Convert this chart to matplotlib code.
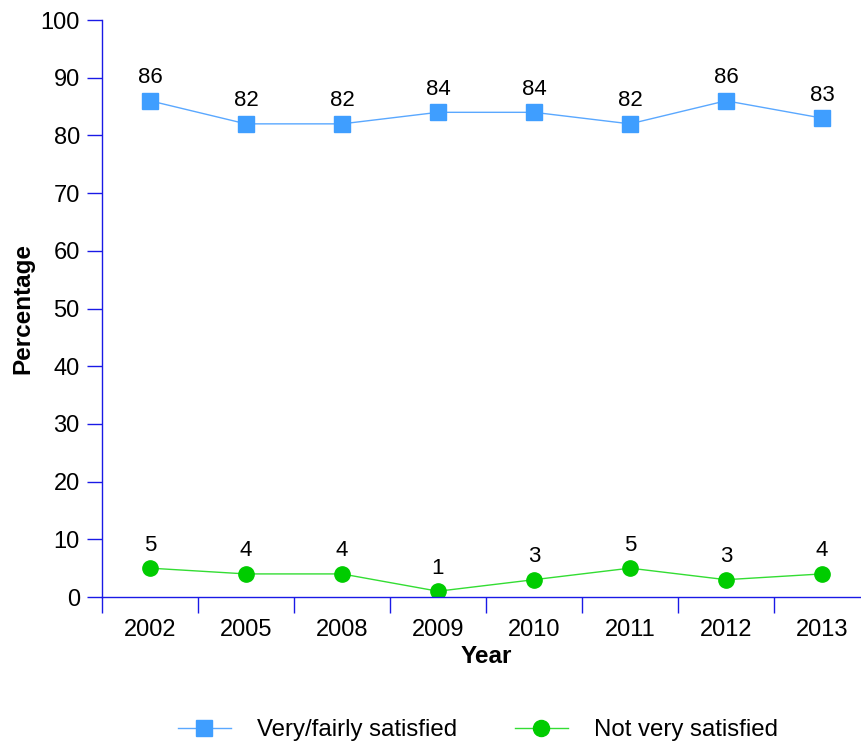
import matplotlib
matplotlib.use('Agg')
import matplotlib.pyplot as plt
import numpy as np

plt.rcParams['font.family'] = ['Liberation Sans', 'DejaVu Sans']

years = ['2002', '2005', '2008', '2009', '2010', '2011', '2012', '2013']
satisfied = [86, 82, 82, 84, 84, 82, 86, 83]
not_satisfied = [5, 4, 4, 1, 3, 5, 3, 4]

axis_col = '#1a1ae6'
blue = '#3f9eff'
green = '#00cc00'

fig = plt.figure(figsize=(8.61, 7.47), dpi=100)
ax = fig.add_axes([102/861, 150/747, 768/861, 577/747])

x = np.arange(len(years))
ax.plot(x, satisfied, color='#5aa8ff', lw=1, marker='s', ms=11,
        mfc=blue, mec=blue, label='Very/fairly satisfied')
ax.plot(x, not_satisfied, color='#33dd33', lw=1, marker='o', ms=11,
        mfc=green, mec=green, label='Not very satisfied')

for xi, v in zip(x, satisfied):
    ax.annotate(str(v), (xi, v), xytext=(0, 9), textcoords='offset points',
                ha='center', va='bottom', fontsize=16)
for xi, v in zip(x, not_satisfied):
    ax.annotate(str(v), (xi, v), xytext=(0, 9), textcoords='offset points',
                ha='center', va='bottom', fontsize=16)

ax.set_xlim(-0.5, len(years) - 0.5)
ax.set_ylim(0, 100)
ax.set_yticks(range(0, 101, 10))
ax.set_xticks(x)
ax.set_xticklabels(years)
ax.set_xticks(np.arange(-0.5, len(years), 1), minor=True)

for s in ['top', 'right']:
    ax.spines[s].set_visible(False)
for s in ['left', 'bottom']:
    ax.spines[s].set_color(axis_col)
    ax.spines[s].set_linewidth(1)

ax.tick_params(axis='y', direction='out', length=11, width=1, color=axis_col,
               pad=5, labelsize=17)
ax.tick_params(axis='x', which='major', length=0, pad=15.5, labelsize=17)
ax.tick_params(axis='x', which='minor', direction='out', length=11.5, width=1,
               color=axis_col)

ax.set_ylabel('Percentage', fontsize=17.5, fontweight='heavy', labelpad=4)
ax.set_xlabel('Year', fontsize=17.5, fontweight='heavy', labelpad=3)

fig.legend(loc='center', bbox_to_anchor=(478/861, 17/747), ncol=2, frameon=False,
           fontsize=17.3, handlelength=2.2, columnspacing=2.4, handletextpad=1.1,
           markerscale=1.05)

fig.savefig('out.png', dpi=100)
